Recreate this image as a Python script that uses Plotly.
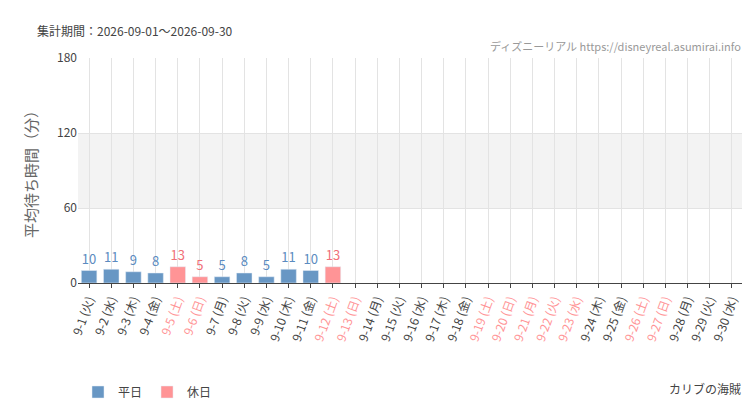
import plotly.graph_objects as go

days = [f"9-{d}" for d in range(1, 31)]
weekdays = ["火", "水", "木", "金", "土", "日", "月"]
dows = [weekdays[i % 7] for i in range(30)]
holiday_days = [5, 6, 12, 13, 19, 20, 21, 22, 23, 26, 27]
waits = [10, 11, 9, 8, 13, 5, 5, 8, 5, 11, 10, 13] + [None] * 18

labels = [f"{d} ({w})" for d, w in zip(days, dows)]
is_hol = [(i + 1) in holiday_days for i in range(30)]

BLUE = "#6897c4"
RED = "#ff9496"
FONT = "Noto Sans CJK JP"

fig = go.Figure()
for name, color, tcolor, flag in [("平日", BLUE, "#5b8bc0", False), ("休日", RED, "#f07078", True)]:
    ys = [w if h == flag else None for w, h in zip(waits, is_hol)]
    fig.add_trace(go.Bar(
        x=labels, y=ys, name=name, marker_color=color, width=0.7,
        text=[str(v) if v is not None else "" for v in ys],
        textposition="outside", textfont=dict(color=tcolor, size=13),
        cliponaxis=False,
    ))

fig.add_hrect(y0=60, y1=120, fillcolor="#f3f3f3", line_width=0, layer="below")

ticktext = [f'<span style="color:{RED}">{l}</span>' if h else l for l, h in zip(labels, is_hol)]

fig.update_layout(
    width=750, height=410, barmode="overlay",
    margin=dict(l=70, r=15, t=50, b=105),
    plot_bgcolor="white", paper_bgcolor="white",
    font=dict(family=FONT, color="#444", size=12),
    legend=dict(orientation="h", x=0.0, y=-0.42, xanchor="left", yanchor="top",
                font=dict(size=12)),
    uniformtext=dict(mode=False),
)
fig.update_xaxes(tickmode="array", tickvals=labels, ticktext=ticktext, tickangle=-70,
                 showgrid=True, gridcolor="#e3e3e3", ticks="outside", ticklen=4,
                 showline=True, linecolor="#444", tickfont=dict(size=12))
fig.update_yaxes(range=[0, 180], tickvals=[0, 60, 120, 180], showgrid=True, gridcolor="#e3e3e3",
                 zeroline=False, title=dict(text="平均待ち時間（分）", font=dict(size=15, color="#666")),
                 tickfont=dict(size=12))

fig.add_annotation(text="集計期間：2026-09-01～2026-09-30", xref="paper", yref="paper",
                   x=-0.065, y=1.17, xanchor="left", showarrow=False, font=dict(size=12, color="#444"))
fig.add_annotation(text="ディズニーリアル https://disneyreal.asumirai.info", xref="paper", yref="paper",
                   x=1, y=1.01, xanchor="right", yanchor="bottom", showarrow=False,
                   font=dict(size=11, color="#999"))
fig.add_annotation(text="カリブの海賊", xref="paper", yref="paper", x=1, y=-0.42,
                   xanchor="right", yanchor="top", showarrow=False, font=dict(size=12, color="#444"))

fig.write_html("out.html")
